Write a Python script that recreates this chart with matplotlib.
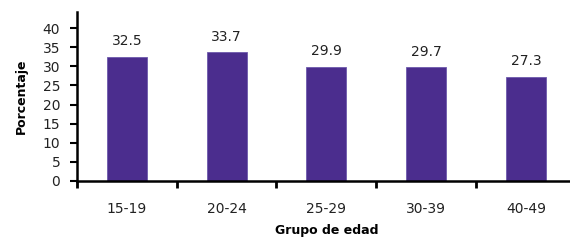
import matplotlib
matplotlib.use("Agg")
import matplotlib.pyplot as plt

categories = ["15-19", "20-24", "25-29", "30-39", "40-49"]
values = [32.5, 33.7, 29.9, 29.7, 27.3]
yticks = [0, 5, 10, 15, 20, 25, 30, 35, 40]

plt.rcParams['font.family'] = ['DejaVu Sans']

fig = plt.figure(figsize=(5.7, 2.41), dpi=100)
# y=0 at pixel 181, top of axis at ~12
ax = fig.add_axes([0.135, 1 - 181 / 241, 0.875, (181 - 12) / 241])
x = list(range(len(categories)))
ax.bar(x, values, width=0.4, color="#4b2d8e", edgecolor="#6e5aac", linewidth=0.6)
for xi, v in zip(x, values):
    ax.annotate(f"{v:.1f}", (xi, v), xytext=(0, 6), textcoords="offset points",
                ha="center", va="bottom", fontsize=10, color="#222222")

ax.set_xlim(-0.5, len(categories) - 0.5)
ax.set_ylim(0, 44.2)
ax.set_yticks(yticks)
ax.set_yticklabels([str(t) for t in yticks], fontsize=10, color="#222222")
ax.set_xticks(x)
ax.set_xticklabels(categories, fontsize=10, color="#222222")
ax.tick_params(axis="x", length=0, pad=15)
ax.set_xticks([i - 0.5 for i in range(len(categories))], minor=True)
ax.tick_params(axis="x", which="minor", length=5, width=2, direction="out")
ax.tick_params(axis="y", length=5, width=1.5, direction="out", pad=7)

for s in ["top", "right"]:
    ax.spines[s].set_visible(False)
for s in ["left", "bottom"]:
    ax.spines[s].set_linewidth(1.8)

ax.set_xlabel("Grupo de edad", fontsize=9, fontweight="bold", labelpad=6)
ax.set_ylabel("Porcentaje", fontsize=9, fontweight="bold", labelpad=11)

fig.savefig("out.png", dpi=100)
